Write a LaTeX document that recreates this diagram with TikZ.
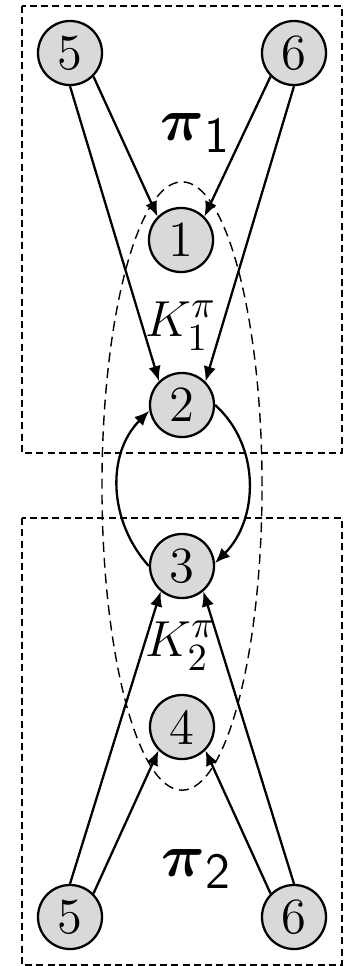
\documentclass[tikz,border=0pt]{standalone}
\usepackage{amsmath}
\usepackage{amsbsy}
\usepackage{xcolor}
\usepackage{tikz}
\usetikzlibrary{arrows.meta}

\begin{document}
\begin{tikzpicture}[
  x=0.01cm, y=-0.01cm,
  >={Latex[length=1.5mm,width=1.25mm]},
  state/.style={circle, draw, line width=0.65pt, fill=gray!30,
    minimum size=0.64cm, inner sep=0pt, font=\Large},
  edge/.style={->, line width=0.65pt},
  group/.style={draw, line width=0.6pt, dash pattern=on 2pt off 1.2pt},
  cluster/.style={draw, line width=0.4pt, dash pattern=on 2.8pt off 1.7pt},
  biglabel/.style={font=\fontsize{19}{22}\selectfont},
  klabel/.style={font=\fontsize{15}{17}\selectfont}
]
\useasboundingbox (0,0) rectangle (349,966);

% the two groups
\draw[group] (22,6) rectangle (342,453);
\draw[group] (22,518) rectangle (342,965);

% shared cluster
\draw[cluster] (182,486) ellipse [x radius=0.8cm, y radius=3.04cm];

\node[state] (t5) at (70,53) {5};
\node[state] (t6) at (294,53) {6};
\node[state] (n1) at (181,240) {1};
\node[state] (n2) at (182,405) {2};
\node[state] (n3) at (182,566) {3};
\node[state] (n4) at (182,727) {4};
\node[state] (b5) at (70,917) {5};
\node[state] (b6) at (294,917) {6};

\node[biglabel] (pi1) at (196,133) {$\boldsymbol{\pi}_{\mathsf{1}}$};
\node[biglabel] (pi2) at (197,869) {$\boldsymbol{\pi}_{\mathsf{2}}$};
\node[klabel] (k1) at (181,326) {$K_1^{\pi}$};
\node[klabel] (k2) at (181,646) {$K_2^{\pi}$};

% upper group
\draw[edge] (t5.-45) -- (n1.135);
\draw[edge] (t5.270) -- (n2.134);
\draw[edge] (t6.-135) -- (n1.45);
\draw[edge] (t6.270) -- (n2.45);

% between the clusters
\draw[edge] (n3.west) to[out=132, in=225] (n2.190);
\draw[edge] (n2.east) to[out=-42, in=45] (n3.5);

% lower group
\draw[edge] (b5.90) -- (n3.230);
\draw[edge] (b5.45) -- (n4.225);
\draw[edge] (b6.135) -- (n4.-45);
\draw[edge] (b6.90) -- (n3.-50);
\end{tikzpicture}
\end{document}
